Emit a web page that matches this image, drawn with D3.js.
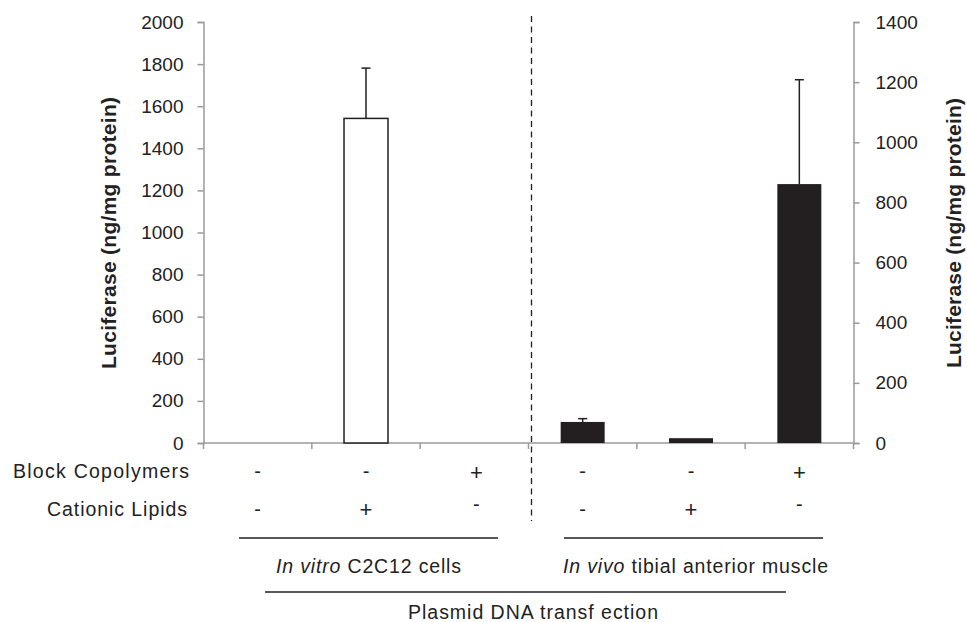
<!DOCTYPE html>
<html><head><meta charset="utf-8">
<script src="https://cdn.jsdelivr.net/npm/d3@7"></script>
<style>body{margin:0;background:#fff}svg{display:block}text{font-family:"Liberation Sans",Arial,sans-serif;fill:#222}</style>
</head><body><svg id="c" width="967" height="622"></svg>
<script>
const categories = ["c1","c2","c3","c4","c5","c6"];
const blockCopolymers = ["-","-","+","-","-","+"];
const cationicLipids = ["-","+","-","-","+","-"];
const leftValues = [0, 1542, 0];          // in vitro (left axis)
const leftErrors = [null, 1781, null];
const rightValues = [70, 16, 861];        // in vivo (right axis)
const rightErrors = [81, null, 1208];
const leftTicks = [0,200,400,600,800,1000,1200,1400,1600,1800,2000];
const rightTicks = [0,200,400,600,800,1000,1200,1400];
const axisTitle = "Luciferase (ng/mg protein)";
const groupLabels = [{it:"In vitro", rest:" C2C12  cells"},{it:"In vivo", rest:" tibial anterior  muscle"}];
const mainLabel = "Plasmid DNA transf ection";

const svg = d3.select("#c");
const axisColor = "#9a9a9a", ink = "#231f20";
const x = d3.scaleBand().domain(categories).range([203.5, 853.5]).paddingInner(0.594).paddingOuter(0.297);
const yL = d3.scaleLinear().domain([0,2000]).range([443,22]);
const yR = d3.scaleLinear().domain([0,1400]).range([443,22]);
const step = x.step();

// left axis
const gL = svg.append("g").attr("transform","translate(203.5,0)")
  .call(d3.axisLeft(yL).tickValues(leftTicks).tickSize(6).tickPadding(14).tickFormat(d3.format("d")));
// right axis
const gR = svg.append("g").attr("transform","translate(853.5,0)")
  .call(d3.axisRight(yR).tickValues(rightTicks).tickSize(6).tickPadding(16).tickFormat(d3.format("d")));
[gL,gR].forEach(g=>{
  g.select(".domain").attr("stroke",axisColor).attr("stroke-width",1.5);
  g.selectAll(".tick line").attr("stroke",axisColor).attr("stroke-width",1.5);
  g.selectAll(".tick text").attr("font-size",19).attr("fill","#222").attr("font-family",'"Liberation Sans",Arial,sans-serif');
});
// bottom axis
const edges = d3.range(categories.length+1).map(i=>x.range()[0]+i*step);
svg.append("line").attr("x1",edges[0]).attr("x2",edges[edges.length-1]).attr("y1",yL(0)).attr("y2",yL(0))
  .attr("stroke",axisColor).attr("stroke-width",1.5);
svg.selectAll(".xt").data(edges).join("line").attr("x1",d=>d).attr("x2",d=>d).attr("y1",yL(0)).attr("y2",yL(0)+6)
  .attr("stroke",axisColor).attr("stroke-width",1.5);

// bars
const leftData = leftValues.map((v,i)=>({c:categories[i],v,e:leftErrors[i]}));
const rightData = rightValues.map((v,i)=>({c:categories[i+3],v,e:rightErrors[i]}));
svg.selectAll(".bl").data(leftData.filter(d=>d.v>0)).join("rect")
  .attr("x",d=>x(d.c)).attr("width",x.bandwidth()).attr("y",d=>yL(d.v)).attr("height",d=>yL(0)-yL(d.v))
  .attr("fill","#fff").attr("stroke",ink).attr("stroke-width",1.5);
svg.selectAll(".br").data(rightData.filter(d=>d.v>0)).join("rect")
  .attr("x",d=>x(d.c)).attr("width",x.bandwidth()).attr("y",d=>yR(d.v)).attr("height",d=>yR(0)-yR(d.v))
  .attr("fill",ink);
// error bars
function err(data, y){
  const d2 = data.filter(d=>d.e!=null);
  svg.selectAll(null).data(d2).join("line").attr("x1",d=>x(d.c)+x.bandwidth()/2).attr("x2",d=>x(d.c)+x.bandwidth()/2)
    .attr("y1",d=>y(d.v)).attr("y2",d=>y(d.e)).attr("stroke",ink).attr("stroke-width",1.5);
  svg.selectAll(null).data(d2).join("line").attr("x1",d=>x(d.c)+x.bandwidth()/2-4.5).attr("x2",d=>x(d.c)+x.bandwidth()/2+4.5)
    .attr("y1",d=>y(d.e)).attr("y2",d=>y(d.e)).attr("stroke",ink).attr("stroke-width",1.5);
}
err(leftData,yL); err(rightData,yR);

// dashed separator
svg.append("line").attr("x1",x.range()[0]+3*step+3).attr("x2",x.range()[0]+3*step+3).attr("y1",16).attr("y2",521)
  .attr("stroke",ink).attr("stroke-width",1.3).attr("stroke-dasharray","6,4.5");

// axis titles
svg.append("text").attr("transform","translate(115.5,233) rotate(-90)").attr("text-anchor","middle")
  .attr("font-weight","bold").attr("font-size",21).attr("textLength",272).attr("lengthAdjust","spacing").text(axisTitle);
svg.append("text").attr("transform","translate(961,233) rotate(-90)").attr("text-anchor","middle")
  .attr("font-weight","bold").attr("font-size",21).attr("textLength",270).attr("lengthAdjust","spacing").text(axisTitle);

// condition rows
svg.append("text").attr("x",189).attr("y",478).attr("text-anchor","end").attr("font-size",19.5).attr("textLength",176).attr("lengthAdjust","spacing").text("Block Copolymers");
svg.append("text").attr("x",187).attr("y",516).attr("text-anchor","end").attr("font-size",19.5).attr("textLength",140).attr("lengthAdjust","spacing").text("Cationic Lipids");
svg.selectAll(".r1").data(blockCopolymers).join("text").attr("x",(d,i)=>x(categories[i])+x.bandwidth()/2+(i===2?2:0))
  .attr("y",d=>d==="+"?480:478).attr("text-anchor","middle").attr("font-size",d=>d==="+"?22:20).text(d=>d);
svg.selectAll(".r2").data(cationicLipids).join("text").attr("x",(d,i)=>x(categories[i])+x.bandwidth()/2+(i===2?2:0))
  .attr("y",(d,i)=>d==="+"?517:(i===2||i===5?511:516)).attr("text-anchor","middle").attr("font-size",d=>d==="+"?22:20).text(d=>d);

// group brackets
const lines = [[239,498,538],[564,823,538],[265,786,592]];
svg.selectAll(".gl").data(lines).join("line").attr("x1",d=>d[0]).attr("x2",d=>d[1]).attr("y1",d=>d[2]).attr("y2",d=>d[2])
  .attr("stroke",ink).attr("stroke-width",1.3);
const gpos = [[276,185],[563,265]];
groupLabels.forEach((g,i)=>{
  const t = svg.append("text").attr("x",gpos[i][0]).attr("y",573).attr("font-size",19.5).attr("textLength",gpos[i][1]).attr("lengthAdjust","spacing");
  t.append("tspan").attr("font-style","italic").text(g.it);
  t.append("tspan").text(g.rest);
});
svg.append("text").attr("x",408).attr("y",619).attr("font-size",19.5).attr("textLength",250).attr("lengthAdjust","spacing").text(mainLabel);
</script></body></html>
